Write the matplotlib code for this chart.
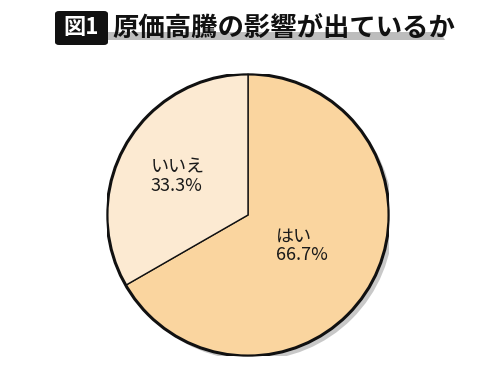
import matplotlib.pyplot as plt
from matplotlib.patches import FancyBboxPatch, Polygon, Circle

plt.rcParams['font.family'] = ['Noto Sans CJK JP', 'DejaVu Sans']

# --- data ---
labels = ['はい', 'いいえ']
values = [66.7, 33.3]
colors = ['#FAD59F', '#FCEAD2']

title_tag = '図1'
title = '原価高騰の影響が出ているか'

fig = plt.figure(figsize=(5, 3.75), dpi=100)
fig.patch.set_facecolor('white')

# title: grey underline band, black tag box, text
band = Polygon([[108 / 500, 1 - 40 / 375], [445 / 500, 1 - 40 / 375],
                [440 / 500, 1 - 32 / 375], [108 / 500, 1 - 32 / 375]],
               closed=True, transform=fig.transFigure, facecolor='#BDBDBD',
               edgecolor='none')
fig.patches.append(band)
tag = FancyBboxPatch((55 / 500, 1 - 45 / 375), 53 / 500, 34 / 375,
                     boxstyle='round,pad=0,rounding_size=0.008',
                     transform=fig.transFigure, facecolor='#111111',
                     edgecolor='none')
fig.patches.append(tag)
fig.text(81 / 500, 1 - 28 / 375, title_tag, color='white', fontsize=16,
         fontweight='bold', ha='center', va='center')
fig.text(112 / 500, 1 - 28 / 375, title, color='#111111', fontsize=19,
         fontweight='bold', ha='left', va='center')

# --- pie ---
ax = fig.add_axes([(248 - 141) / 500, (375 - 215 - 141) / 375, 282 / 500, 282 / 375])
ax.set_aspect('equal')
ax.axis('off')

shadow = Circle((0.03, -0.03), 1.0, facecolor='#C8C8C8', edgecolor='none', zorder=0)
ax.add_patch(shadow)
wedges, _ = ax.pie(values, colors=colors, startangle=90, counterclock=False,
                   radius=1.0, wedgeprops=dict(edgecolor='#111111', linewidth=1.0))
for w in wedges:
    w.set_zorder(1)
outline = Circle((0, 0), 1.0, facecolor='none', edgecolor='#111111', linewidth=2.2, zorder=3)
ax.add_patch(outline)

ax.text(0.20, -0.22, f'{labels[0]}\n{values[0]}%', fontsize=13, ha='left', va='center',
        color='#1a1a1a', linespacing=1.0)
ax.text(-0.69, 0.27, f'{labels[1]}\n{values[1]}%', fontsize=13, ha='left', va='center',
        color='#1a1a1a', linespacing=1.0)

ax.set_xlim(-1.0, 1.0)
ax.set_ylim(-1.0, 1.0)

fig.savefig('out.png', dpi=100)
